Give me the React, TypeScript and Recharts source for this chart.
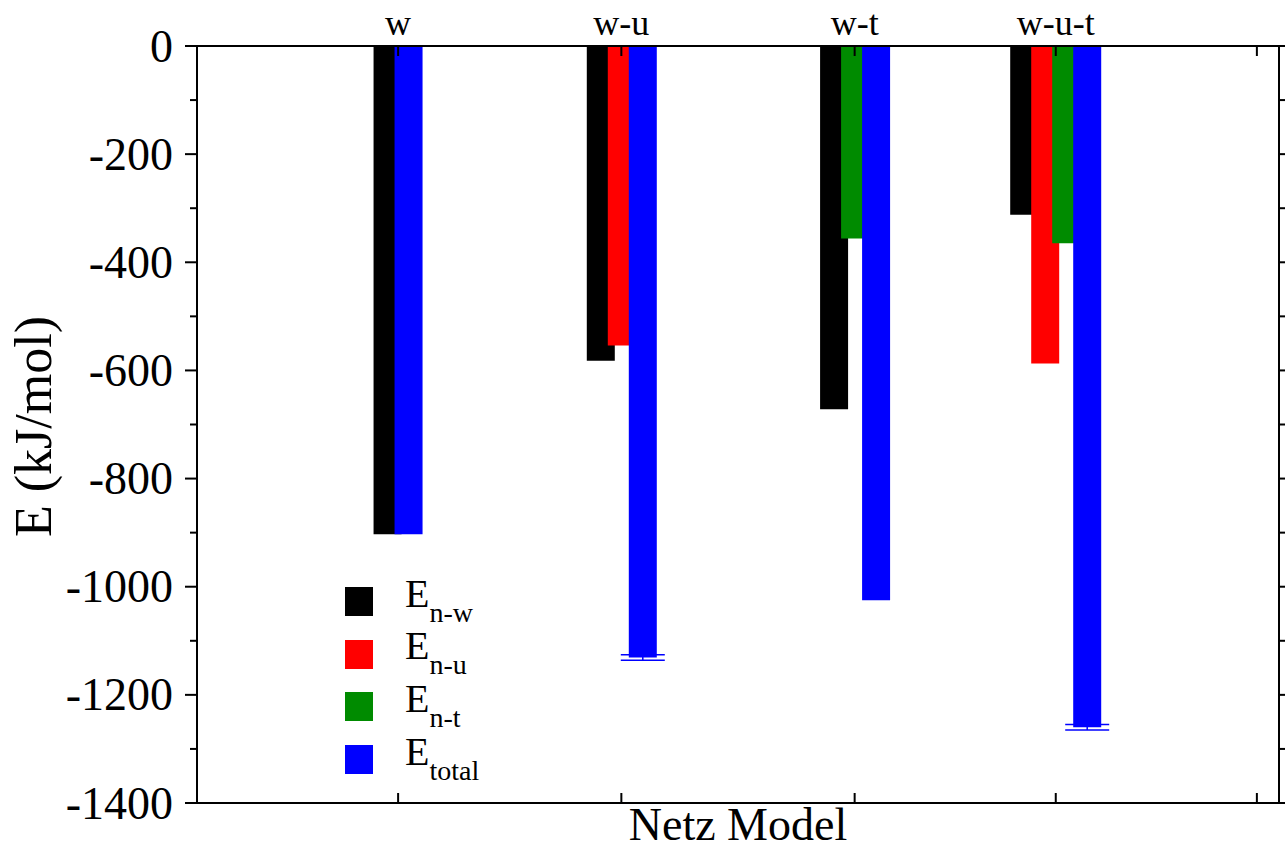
import { BarChart, Bar, XAxis, YAxis, Cell, ErrorBar, Legend, Label } from 'recharts'

const serif = '"Liberation Serif", "Times New Roman", serif'

// model groups along the x axis (numeric positions, as in the original plot)
const groups = ['w', 'w-u', 'w-t', 'w-u-t']
const groupX = [1, 2.11, 3.27, 4.27]
const spareTickX = 5.27

// energies in kJ/mol, null = term not present in that model
const eNW: (number | null)[] = [-903, -582, -672, -312]
const eNU: (number | null)[] = [null, -554, null, -587]
const eNT: (number | null)[] = [null, null, -356, -365]
const eTotal: (number | null)[] = [-903, -1131, -1025, -1260]
const errTotal: (number | null)[] = [null, 5, null, 5]

const yTicks = [0, -100, -200, -300, -400, -500, -600, -700, -800, -900, -1000, -1100, -1200, -1300, -1400]

const seriesNames = ['n-w', 'n-u', 'n-t', 'total']
const seriesColors = ['#000000', '#ff0000', '#008b00', '#0000ff']
const seriesValues = [eNW, eNU, eNT, eTotal]
const seriesErrors = [[], [], [], errTotal] as (number | null)[][]

// bars of one model sit side by side and are centred on its tick, so each
// group size gets its own (hidden) x axis and a set of slots
const rows = groups.map((g, i) => {
  const present = seriesValues.map((v, s) => s).filter((s) => seriesValues[s][i] != null)
  const n = present.length
  const row: Record<string, any> = { name: g, x: groupX[i] }
  present.forEach((s, k) => {
    row[`n${n}_${k}`] = seriesValues[s][i]
    row[`n${n}_${k}_c`] = seriesColors[s]
    if (seriesErrors[s][i] != null) row[`n${n}_${k}_e`] = seriesErrors[s][i]
  })
  return row
})
const slotSets = [2, 3, 4]

const YTick = (props: any) => {
  const { x, y, payload } = props
  const major = payload.value % 200 === 0
  const edge = x + 24
  return (
    <g>
      <line x1={edge - (major ? 12 : 7)} x2={edge} y1={y} y2={y} stroke="#000" strokeWidth={2} />
      {major && (
        <text x={x} y={y} dy="0.34em" textAnchor="end" fontFamily={serif} fontSize={46} fill="#000">
          {payload.value}
        </text>
      )}
    </g>
  )
}

const YTitle = (props: any) => {
  const vb = props.viewBox
  const cx = vb.x + 33
  const cy = vb.y + vb.height / 2 + 2
  return (
    <text x={cx} y={cy} transform={`rotate(-90 ${cx} ${cy})`} textAnchor="middle" dy="0.34em"
      fontFamily={serif} fontSize={52} fill="#000">
      E (kJ/mol)
    </text>
  )
}

const XTitle = (props: any) => {
  const vb = props.viewBox
  return (
    <text x={vb.x + vb.width / 2} y={vb.y + 37} textAnchor="middle" fontFamily={serif} fontSize={46} fill="#000">
      Netz Model
    </text>
  )
}

const LegendBox = () => (
  <div style={{ fontFamily: serif, color: '#000' }}>
    {seriesNames.map((name, i) => (
      <div key={name} style={{ position: 'relative', height: 52.7, width: 160 }}>
        <div style={{ position: 'absolute', left: 0, top: 0, width: 28, height: 29, background: seriesColors[i] }} />
        <div style={{ position: 'absolute', left: 60, top: -13.5, fontSize: 40, lineHeight: '40px', whiteSpace: 'nowrap' }}>
          E<span style={{ fontSize: 28, verticalAlign: '-15px', lineHeight: 0 }}>{name}</span>
        </div>
      </div>
    ))}
  </div>
)

export default function App() {
  return (
    <div style={{ position: 'absolute', left: 0, top: 0, background: '#fff' }}>
      <BarChart width={1285} height={850} data={rows} barGap={-7} margin={{ top: 0, right: 0, bottom: 0, left: 0 }}>
        {slotSets.map((n) => (
          <XAxis key={`ax${n}`} xAxisId={`n${n}`} type="number" dataKey="x" domain={[0, 5.38]}
            ticks={groupX} allowDataOverflow hide />
        ))}
        <XAxis xAxisId="top" orientation="top" type="number" dataKey="x" domain={[0, 5.38]} allowDataOverflow
          ticks={[...groupX, spareTickX]} tickFormatter={(v: number) => groups[groupX.indexOf(v)] ?? ''}
          height={46} tickSize={-10} tickMargin={21}
          axisLine={{ stroke: '#000', strokeWidth: 2 }} tickLine={{ stroke: '#000', strokeWidth: 2 }}
          tick={{ fill: '#000', fontSize: 36, fontFamily: serif }} />
        <XAxis xAxisId="bottom" orientation="bottom" type="number" dataKey="x" domain={[0, 5.38]} allowDataOverflow
          ticks={[...groupX, spareTickX]} tickFormatter={() => ''}
          height={47} tickSize={-10}
          axisLine={{ stroke: '#000', strokeWidth: 2 }} tickLine={{ stroke: '#000', strokeWidth: 2 }}>
          <Label content={XTitle} />
        </XAxis>
        <YAxis yAxisId="e" type="number" domain={[-1400, 0]} allowDataOverflow ticks={yTicks} interval={0}
          width={197} tickSize={12} tickMargin={12} tickLine={false} tick={<YTick />}
          axisLine={{ stroke: '#000', strokeWidth: 2 }}>
          <Label content={YTitle} />
        </YAxis>
        <YAxis yAxisId="right" orientation="right" type="number" domain={[-1400, 0]} allowDataOverflow
          ticks={yTicks} interval={0} width={6} tickSize={6} tickFormatter={() => ''}
          axisLine={{ stroke: '#000', strokeWidth: 2 }} tickLine={{ stroke: '#000', strokeWidth: 2 }} />
        {slotSets.map((n) =>
          Array.from({ length: n }, (_, k) => {
            const key = `n${n}_${k}`
            return (
              <Bar key={key} xAxisId={`n${n}`} yAxisId="e" dataKey={key} barSize={28} isAnimationActive={false}>
                {rows.map((r, i) => (
                  <Cell key={i} fill={r[`${key}_c`] ?? 'none'} />
                ))}
                {k === n - 1 && (
                  <ErrorBar dataKey={`${key}_e`} width={22} stroke="#0000ff" strokeWidth={1.5} direction="y" />
                )}
              </Bar>
            )
          })
        )}
        <Legend verticalAlign="middle" align="center" layout="horizontal"
          wrapperStyle={{ left: 345, top: 587, width: 'auto', height: 'auto' }} content={() => <LegendBox />} />
      </BarChart>
    </div>
  )
}
